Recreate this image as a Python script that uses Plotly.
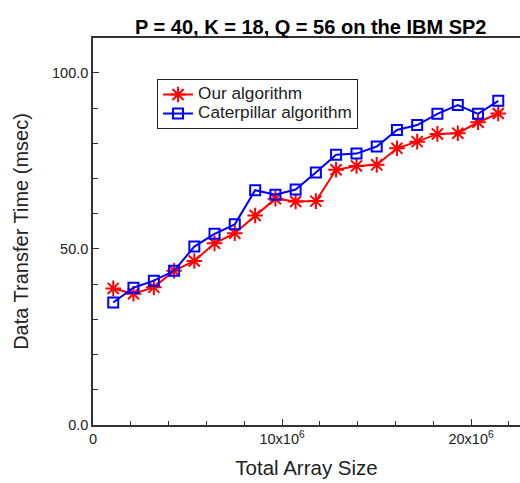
import plotly.graph_objects as go

# Total array size in units of 10^6
array_size_m = [1.07, 2.14, 3.22, 4.29, 5.36, 6.43, 7.50, 8.58, 9.65, 10.72,
                11.79, 12.86, 13.94, 15.01, 16.08, 17.15, 18.22, 19.30, 20.37, 21.44]
our_alg = [38.8, 37.3, 39.1, 43.8, 46.6, 51.6, 54.5, 59.5, 64.3, 63.5,
           63.6, 72.5, 73.6, 73.9, 78.6, 80.5, 82.7, 82.9, 86.0, 88.5]
caterpillar = [34.8, 39.0, 41.0, 43.8, 50.7, 54.3, 57.0, 66.7, 65.4, 66.9,
               71.7, 76.8, 77.1, 79.1, 83.8, 85.2, 88.4, 90.9, 88.4, 92.1]
series_names = ["Our algorithm", "Caterpillar algorithm"]

x_tickvals = [0, 10, 20]
x_ticktext = ["0", "10x10<sup>6</sup>", "20x10<sup>6</sup>"]
y_tickvals = [0, 50, 100]

FONT = "Liberation Sans, Arial, sans-serif"


def legend_name(s):
    return '<span style="font-size:17.2px">' + s + "</span>"


fig = go.Figure()
fig.add_trace(go.Scatter(
    x=array_size_m, y=our_alg, name=legend_name(series_names[0]), mode="lines+markers",
    line=dict(color="#ff0000", width=2),
    marker=dict(symbol="asterisk-open", size=13, color="#ff0000",
                line=dict(color="#ff0000", width=2)),
))
fig.add_trace(go.Scatter(
    x=array_size_m, y=caterpillar, name=legend_name(series_names[1]), mode="lines+markers",
    line=dict(color="#0000ff", width=2),
    marker=dict(symbol="square-open", size=10, color="#0000ff",
                line=dict(color="#0000ff", width=2)),
))

fig.update_layout(
    width=520, height=483,
    margin=dict(l=93, r=0, t=38, b=58),
    paper_bgcolor="white", plot_bgcolor="white",
    font=dict(family=FONT, color="#222222", size=14),
    title=dict(text="<b>P = 40, K = 18, Q = 56 on the IBM SP2</b>",
               x=0.51, xref="paper", xanchor="center",
               y=0.958, yref="container",
               font=dict(family=FONT, size=20, color="black")),
    showlegend=True,
    legend=dict(x=0.15, y=0.894, xanchor="left", yanchor="top",
                bgcolor="white", bordercolor="#222222", borderwidth=1,
                font=dict(family=FONT, size=11, color="#222222"),
                tracegroupgap=0, itemwidth=30),
    xaxis=dict(
        range=[0, 22.59], showgrid=False, zeroline=False,
        showline=True, linecolor="#333333", linewidth=1.5, mirror=True,
        tickvals=x_tickvals, ticktext=x_ticktext,
        ticks="inside", ticklen=6, tickcolor="#333333",
        minor=dict(dtick=2, ticks="inside", ticklen=4, tickcolor="#333333"),
        title=dict(text="Total Array Size", font=dict(family=FONT, size=20.5, color="#222222"),
                   standoff=14),
        tickfont=dict(family=FONT, size=14.5, color="#222222"),
    ),
    yaxis=dict(
        range=[0, 109.94], showgrid=False, zeroline=False,
        showline=True, linecolor="#333333", linewidth=1.5,
        tickvals=y_tickvals, tickformat=".1f",
        ticks="inside", ticklen=6, tickcolor="#333333",
        minor=dict(dtick=10, ticks="inside", ticklen=5, tickcolor="#333333"),
        title=dict(text="Data Transfer Time (msec)", font=dict(family=FONT, size=20, color="#222222"),
                   standoff=18),
        tickfont=dict(family=FONT, size=14.5, color="#222222"),
    ),
)

fig.write_html("out.html")
